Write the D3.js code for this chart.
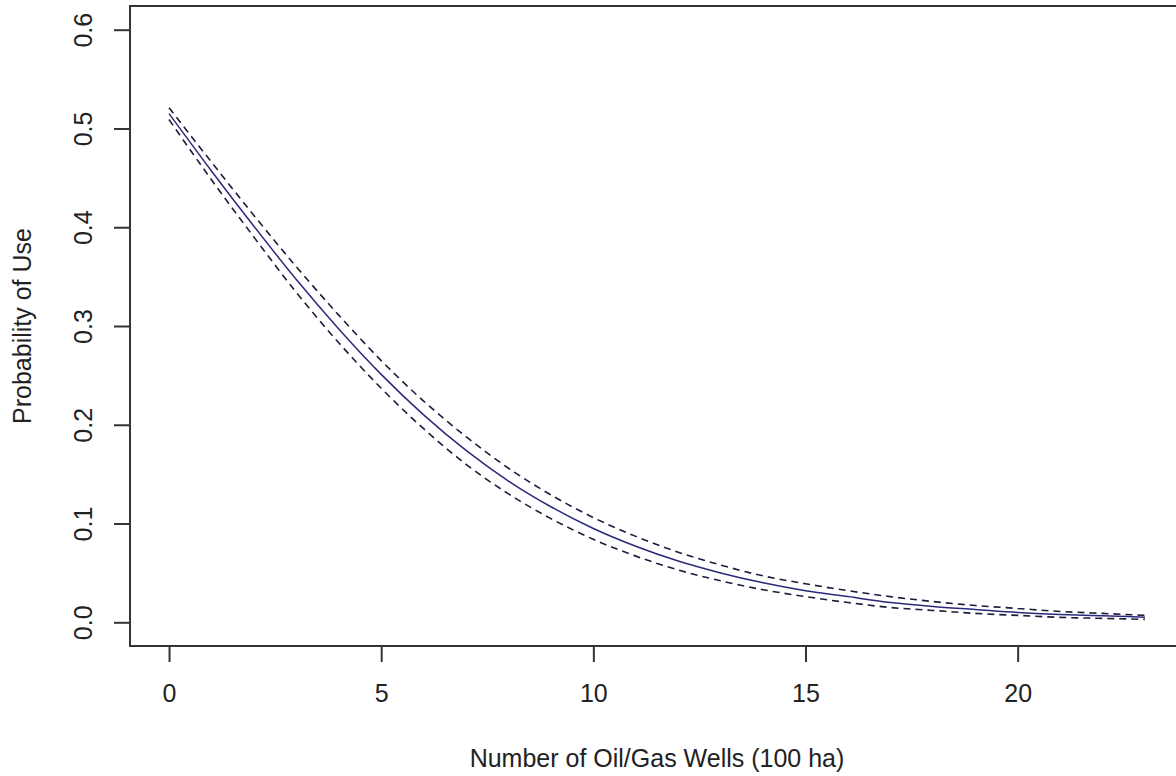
<!DOCTYPE html>
<html>
<head>
<meta charset="utf-8">
<script src="https://cdn.jsdelivr.net/npm/d3@7"></script>
<style>
  html, body { margin: 0; padding: 0; background: #ffffff; }
  svg { display: block; }
  text { font-family: "Liberation Sans", Arial, sans-serif; fill: #222; }
</style>
</head>
<body>
<svg id="chart" width="1176" height="776"></svg>
<script>
// ---- data ----
const wells = [0,1,2,3,4,5,6,7,8,9,10,11,12,13,14,15,16,17,18,19,20,21,22,23];
const probMean = [0.515,0.457,0.401,0.347,0.297,0.251,0.210,0.174,0.143,0.117,0.095,0.077,0.062,0.050,0.040,0.032,0.026,0.020,0.016,0.013,0.010,0.008,0.0066,0.0052];
const probUpper = [0.521,0.466,0.412,0.360,0.311,0.265,0.224,0.188,0.156,0.129,0.106,0.087,0.071,0.058,0.047,0.039,0.032,0.026,0.021,0.017,0.014,0.011,0.009,0.007];
const probLower = [0.509,0.448,0.390,0.334,0.283,0.237,0.196,0.160,0.130,0.105,0.084,0.067,0.053,0.042,0.033,0.026,0.020,0.015,0.012,0.009,0.007,0.005,0.004,0.003];
const xTicks = [0,5,10,15,20];
const yTicks = [0.0,0.1,0.2,0.3,0.4,0.5,0.6];
const xLabel = "Number of Oil/Gas Wells (100 ha)";
const yLabel = "Probability of Use";

// ---- layout ----
const svg = d3.select("#chart");
const box = {left: 130, top: 6, right: 1184, bottom: 646};

const x = d3.scaleLinear().domain([-0.92, 23.92]).range([box.left, box.right]);
const y = d3.scaleLinear().domain([-0.024, 0.624]).range([box.bottom, box.top]);

// axes
const xAxis = d3.axisBottom(x).tickValues(xTicks).tickFormat(d3.format("d")).tickSize(16).tickPadding(22);
const gx = svg.append("g").attr("transform", `translate(0,${box.bottom})`).call(xAxis);
gx.select(".domain").remove();
gx.selectAll(".tick line").attr("stroke", "#333").attr("stroke-width", 2);
gx.selectAll(".tick text").attr("font-size", 25).attr("fill", "#222")
  .attr("font-family", "Liberation Sans, Arial, sans-serif");

const yAxis = d3.axisLeft(y).tickValues(yTicks).tickFormat(d3.format(".1f")).tickSize(16).tickPadding(0);
const gy = svg.append("g").attr("transform", `translate(${box.left},0)`).call(yAxis);
gy.select(".domain").remove();
gy.selectAll(".tick line").attr("stroke", "#333").attr("stroke-width", 2);
gy.selectAll(".tick text")
  .attr("font-size", 25).attr("fill", "#222")
  .attr("font-family", "Liberation Sans, Arial, sans-serif")
  .attr("text-anchor", "middle")
  .attr("x", null)
  .attr("transform", "translate(-36,0) rotate(-90)")
  .attr("y", 0)
  .attr("dy", "-0.1em");

// box
svg.append("rect")
  .attr("x", box.left).attr("y", box.top)
  .attr("width", box.right - box.left).attr("height", box.bottom - box.top)
  .attr("fill", "none").attr("stroke", "#333").attr("stroke-width", 2);

// lines
const mk = arr => wells.map((w, i) => [w, arr[i]]);
const line = d3.line().x(d => x(d[0])).y(d => y(d[1])).curve(d3.curveMonotoneX);

svg.append("path").datum(mk(probUpper)).attr("d", line)
  .attr("fill", "none").attr("stroke", "#1c1c3c").attr("stroke-width", 1.6)
  .attr("stroke-dasharray", "7,5");
svg.append("path").datum(mk(probLower)).attr("d", line)
  .attr("fill", "none").attr("stroke", "#1c1c3c").attr("stroke-width", 1.6)
  .attr("stroke-dasharray", "7,5");
svg.append("path").datum(mk(probMean)).attr("d", line)
  .attr("fill", "none").attr("stroke", "#2a2a7a").attr("stroke-width", 1.5);

// axis titles
svg.append("text")
  .attr("x", (box.left + box.right) / 2).attr("y", 767)
  .attr("text-anchor", "middle").attr("font-size", 25)
  .text(xLabel);

svg.append("text")
  .attr("transform", `translate(31,${(box.top + box.bottom) / 2}) rotate(-90)`)
  .attr("text-anchor", "middle").attr("font-size", 25)
  .text(yLabel);
</script>
</body>
</html>
